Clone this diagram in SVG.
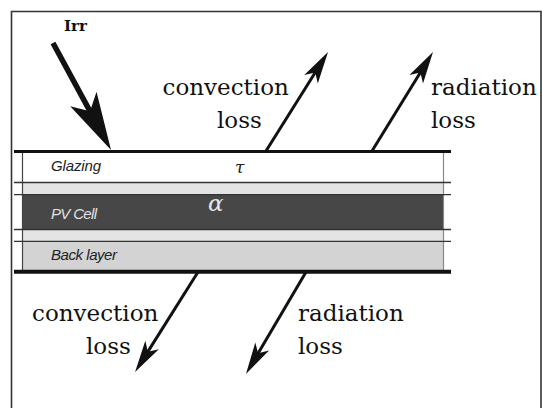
<svg xmlns="http://www.w3.org/2000/svg" width="542" height="408" viewBox="0 0 542 408">
  <defs>
    <marker id="headThin" markerUnits="userSpaceOnUse" viewBox="-40 -12 44 24" markerWidth="44" markerHeight="24" refX="-20" refY="0" orient="auto" overflow="visible">
      <path d="M0,0 L-32,-8 L-24,0 L-32,8 Z" fill="#111"/>
    </marker>
    <marker id="headBig" markerUnits="userSpaceOnUse" viewBox="-64 -18 68 36" markerWidth="68" markerHeight="36" refX="-30" refY="0" orient="auto" overflow="visible">
      <path d="M0,0 L-58,-15 L-44,0 L-58,15 Z" fill="#111"/>
    </marker>
  </defs>
  <style>
    .lbl { font-family: "DejaVu Serif", "Liberation Serif", serif; font-size: 23px; fill: #111; }
    .layer-lbl { font-family: "Liberation Sans", Arial, sans-serif; font-style: italic; font-size: 15px; }
    .sep { stroke: #333; stroke-width: 1.3; }
    .thin { stroke: #111; stroke-width: 3; fill: none; marker-end: url(#headThin); }
  </style>
  <rect width="542" height="408" fill="#fff"/>
  <!-- outer frame (bottom edge outside picture) -->
  <path d="M11.5,410 V11.5 H541 V410" fill="none" stroke="#333" stroke-width="1.6"/>

  <g id="glazing">
    <rect x="22.5" y="152" width="421" height="30.5" fill="#fff"/>
    <text class="layer-lbl" x="51" y="171" fill="#222" textLength="50">Glazing</text>
    <text x="235" y="173" font-family="DejaVu Serif, serif" font-style="italic" font-size="17" fill="#222">τ</text>
  </g>
  <g id="interlayer-1">
    <rect x="22.5" y="182.5" width="421" height="12" fill="#e4e4e4"/>
  </g>
  <g id="pv-cell">
    <rect x="22.5" y="194.6" width="421" height="34.9" fill="#474747"/>
    <text class="layer-lbl" x="51" y="219" fill="#e2e2e2" textLength="46">PV Cell</text>
    <text x="208" y="210.5" font-family="DejaVu Serif, serif" font-style="italic" font-size="23" fill="#e6e6e6">α</text>
  </g>
  <g id="interlayer-2">
    <rect x="22.5" y="229.5" width="421" height="11.8" fill="#e4e4e4"/>
  </g>
  <g id="back-layer">
    <rect x="22.5" y="241.3" width="421" height="30.4" fill="#d3d3d3"/>
    <text class="layer-lbl" x="51" y="260" fill="#222" textLength="66">Back layer</text>
  </g>
  <g id="layer-lines">
    <line x1="22.5" y1="151.5" x2="22.5" y2="271.5" stroke="#444" stroke-width="1.2"/>
    <line x1="443.5" y1="151.5" x2="443.5" y2="271.5" stroke="#888" stroke-width="1.2"/>
    <line class="sep" x1="14" y1="182.5" x2="451" y2="182.5"/>
    <line class="sep" x1="14" y1="194.6" x2="451" y2="194.6"/>
    <line class="sep" x1="14" y1="229.5" x2="451" y2="229.5"/>
    <line class="sep" x1="14" y1="241.3" x2="451" y2="241.3"/>
    <line x1="14" y1="151.4" x2="451" y2="151.4" stroke="#111" stroke-width="3"/>
    <line x1="14" y1="271.7" x2="451" y2="271.7" stroke="#111" stroke-width="4"/>
  </g>

  <g id="connectors">
    <line x1="53" y1="43" x2="96.7" y2="123.6" stroke="#111" stroke-width="5.5" marker-end="url(#headBig)"/>
    <line class="thin" x1="266" y1="151" x2="317.4" y2="69"/>
    <line class="thin" x1="372" y1="151" x2="422.5" y2="69"/>
    <line class="thin" x1="198" y1="272" x2="145.7" y2="355.1"/>
    <line class="thin" x1="306" y1="272" x2="256.1" y2="356.8"/>
  </g>

  <g id="label-irr">
    <text x="64" y="31" font-family="DejaVu Serif, serif" font-weight="bold" font-size="15" fill="#111">Irr</text>
  </g>
  <g id="label-top-convection">
    <text class="lbl" x="162.5" y="95">convection</text>
    <text class="lbl" x="217" y="128">loss</text>
  </g>
  <g id="label-top-radiation">
    <text class="lbl" x="431" y="95">radiation</text>
    <text class="lbl" x="431" y="128">loss</text>
  </g>
  <g id="label-bottom-convection">
    <text class="lbl" x="32" y="320.5">convection</text>
    <text class="lbl" x="86" y="354">loss</text>
  </g>
  <g id="label-bottom-radiation">
    <text class="lbl" x="298" y="320.5">radiation</text>
    <text class="lbl" x="298" y="354">loss</text>
  </g>
</svg>
